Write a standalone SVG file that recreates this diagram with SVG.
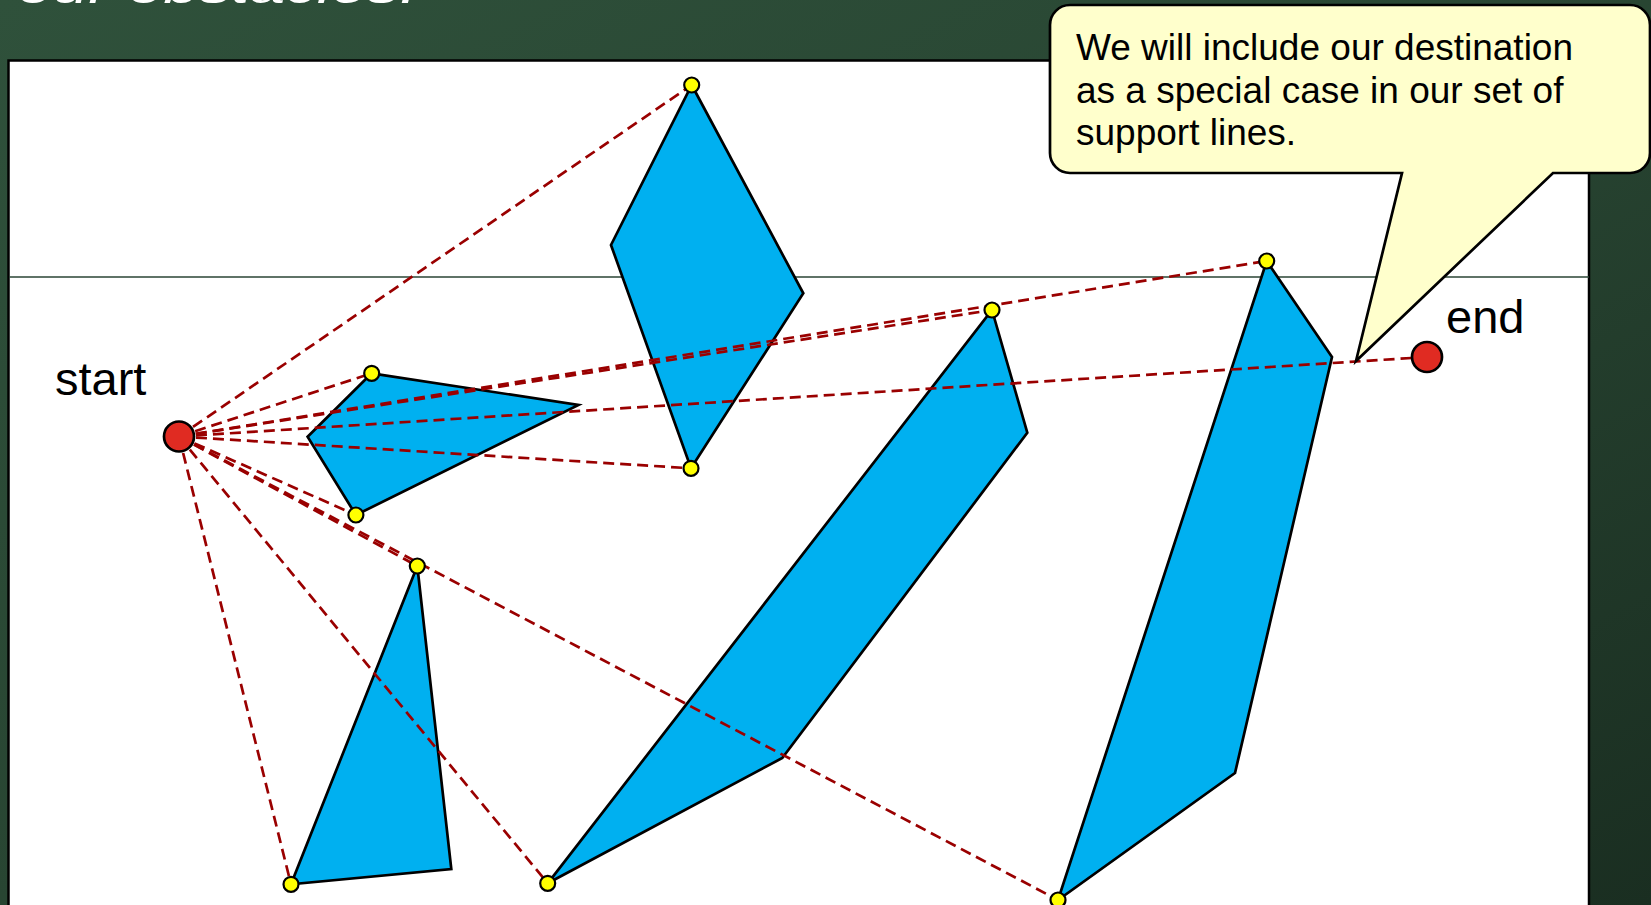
<svg xmlns="http://www.w3.org/2000/svg" width="1651" height="905" viewBox="0 0 1651 905">
  <defs>
    <linearGradient id="board" x1="0" y1="0" x2="1" y2="1">
      <stop offset="0" stop-color="#2f513b"/>
      <stop offset="0.5" stop-color="#284532"/>
      <stop offset="1" stop-color="#1a2e21"/>
    </linearGradient>
    <style>
      .obst { fill: #00B0F0; stroke: #000; stroke-width: 2.7; stroke-linejoin: miter; }
      .support { stroke: #9a0000; stroke-width: 2.7; stroke-dasharray: 11 6; fill: none; }
      .vertex { fill: #FFFF00; stroke: #000; stroke-width: 2.2; }
      .endpoint { fill: #E02B22; stroke: #000; stroke-width: 2.7; }
      .label { font-family: "Liberation Sans", Arial, sans-serif; fill: #000; }
    </style>
  </defs>

  <!-- chalkboard background -->
  <rect x="0" y="0" width="1651" height="905" fill="url(#board)"/>
  <text x="17" y="3" font-family="Liberation Sans, sans-serif" font-style="italic" font-size="48" fill="#ffffff" textLength="400" lengthAdjust="spacingAndGlyphs">our obstacles.</text>

  <!-- frame -->
  <rect id="frame" x="8.5" y="60.5" width="1580.5" height="860" fill="#ffffff" stroke="#000" stroke-width="2.5"/>
  <line x1="9" y1="277" x2="1589" y2="277" stroke="#2a4535" stroke-width="1.5"/>

  <!-- obstacles -->
  <g id="diamond"><polygon class="obst" points="691.7,85 803.3,293.3 691,468.3 611,245"/></g>
  <g id="quad"><polygon class="obst" points="371.7,373.3 578.5,405 355.9,515 307.6,436.7"/></g>
  <g id="triangle"><polygon class="obst" points="417.3,566 451.3,869 291,884.3"/></g>
  <g id="parallelogram1"><polygon class="obst" points="992,310 1027.3,432.7 782.3,758 547.7,883.3"/></g>
  <g id="parallelogram2"><polygon class="obst" points="1266.7,261 1332,357 1235,773 1058,900"/></g>

  <!-- support lines -->
  <g id="connectors">
    <line class="support" x1="179" y1="436.5" x2="691.7" y2="85"/>
    <line class="support" x1="179" y1="436.5" x2="371.7" y2="373.3"/>
    <line class="support" x1="179" y1="436.5" x2="992" y2="310"/>
    <line class="support" x1="179" y1="436.5" x2="1266.7" y2="261"/>
    <line class="support" x1="179" y1="436.5" x2="1427" y2="357"/>
    <line class="support" x1="179" y1="436.5" x2="691" y2="468.3"/>
    <line class="support" x1="179" y1="436.5" x2="355.9" y2="515"/>
    <line class="support" x1="179" y1="436.5" x2="417.3" y2="566"/>
    <line class="support" x1="179" y1="436.5" x2="1058" y2="900"/>
    <line class="support" x1="179" y1="436.5" x2="291" y2="884.3"/>
    <line class="support" x1="179" y1="436.5" x2="547.7" y2="883.3"/>
  </g>

  <!-- vertices -->
  <g id="vertices">
    <circle class="vertex" cx="691.7" cy="85" r="7.5"/>
    <circle class="vertex" cx="691" cy="468.3" r="7.5"/>
    <circle class="vertex" cx="371.7" cy="373.3" r="7.5"/>
    <circle class="vertex" cx="355.9" cy="515" r="7.5"/>
    <circle class="vertex" cx="417.3" cy="566" r="7.5"/>
    <circle class="vertex" cx="291" cy="884.3" r="7.5"/>
    <circle class="vertex" cx="992" cy="310" r="7.5"/>
    <circle class="vertex" cx="547.7" cy="883.3" r="7.5"/>
    <circle class="vertex" cx="1266.7" cy="261" r="7.5"/>
    <circle class="vertex" cx="1058" cy="900" r="7.5"/>
  </g>

  <g id="start">
    <circle class="endpoint" cx="179" cy="436.5" r="15"/>
    <text class="label" x="55" y="395" font-size="47">start</text>
  </g>
  <g id="end">
    <circle class="endpoint" cx="1427" cy="357" r="15"/>
    <text class="label" x="1446" y="333" font-size="47">end</text>
  </g>

  <!-- callout -->
  <g id="callout">
    <path d="M 1070,5 H 1630 A 20 20 0 0 1 1650,25 V 153 A 20 20 0 0 1 1630,173 H 1553 L 1356,361 L 1402,173 H 1070 A 20 20 0 0 1 1050,153 V 25 A 20 20 0 0 1 1070,5 Z" fill="#FFFFCC" stroke="#000" stroke-width="2.7" stroke-linejoin="miter"/>
    <text class="label" font-size="37">
      <tspan x="1076" y="60">We will include our destination</tspan>
      <tspan x="1076" y="102.5">as a special case in our set of</tspan>
      <tspan x="1076" y="145">support lines.</tspan>
    </text>
  </g>
</svg>
